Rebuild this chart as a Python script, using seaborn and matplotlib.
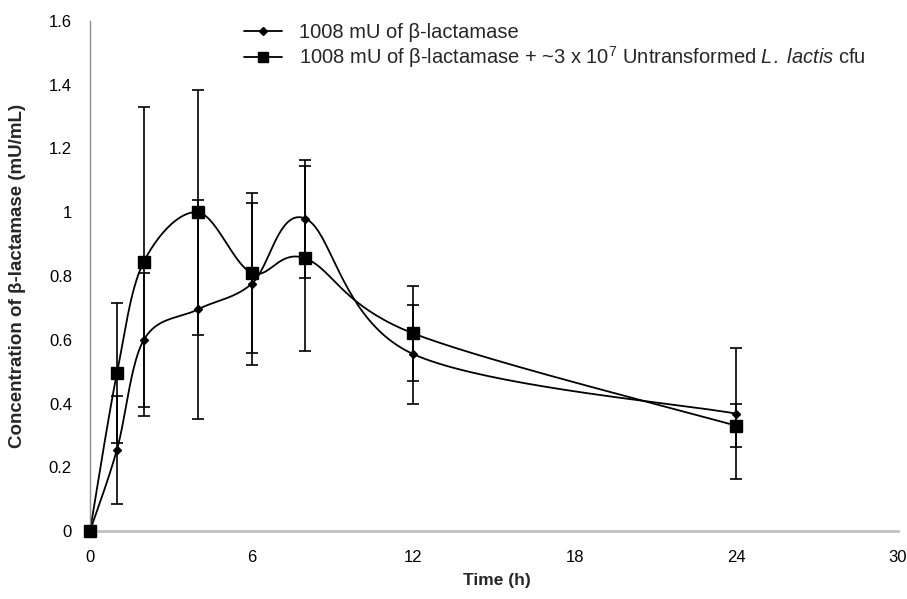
import numpy as np
import pandas as pd
import matplotlib
matplotlib.use("Agg")
import matplotlib.pyplot as plt
import seaborn as sns
from matplotlib.lines import Line2D

# ---- data ----
time_h = [0, 1, 2, 4, 6, 8, 12, 24]
enzyme_only = [0.0, 0.255, 0.60, 0.695, 0.775, 0.98, 0.555, 0.368]
enzyme_only_err = [0.0, 0.17, 0.21, 0.345, 0.255, 0.185, 0.155, 0.205]
enzyme_lactis = [0.0, 0.495, 0.845, 1.0, 0.81, 0.855, 0.62, 0.33]
enzyme_lactis_err = [0.0, 0.22, 0.485, 0.385, 0.25, 0.29, 0.15, 0.068]
label_1 = "1008 mU of β-lactamase"
label_2 = r"1008 mU of β-lactamase + ~3 x 10$^{7}$ Untransformed $\mathit{L.\ lactis}$ cfu"
x_ticks = [0, 6, 12, 18, 24, 30]
y_ticks = [0, 0.2, 0.4, 0.6, 0.8, 1, 1.2, 1.4, 1.6]
y_tick_labels = ["0", "0.2", "0.4", "0.6", "0.8", "1", "1.2", "1.4", "1.6"]

sns.set_theme(style="white")
plt.rcParams["font.family"] = ["Liberation Sans", "DejaVu Sans"]
plt.rcParams["mathtext.fontset"] = "custom"
plt.rcParams["mathtext.rm"] = "Liberation Sans"
plt.rcParams["mathtext.it"] = "Liberation Sans:italic"

W, H = 907, 599
L, R, B, T = 90, 898, 531, 21
fig = plt.figure(figsize=(W / 100, H / 100), dpi=100)
ax = fig.add_axes([L / W, 1 - B / H, (R - L) / W, (B - T) / H])
ax.set_xlim(0, 30)
ax.set_ylim(0, 1.6)

# smoothed curve (Excel-style Catmull-Rom Bezier in screen-scaled space)
sx, sy = (R - L) / 30, (B - T) / 1.6


def smooth(xs, ys, n=40):
    P = np.column_stack([np.asarray(xs) * sx, np.asarray(ys) * sy])
    out = []
    m = len(P)
    for i in range(m - 1):
        p0 = P[max(i - 1, 0)]
        p1 = P[i]
        p2 = P[i + 1]
        p3 = P[min(i + 2, m - 1)]
        c1 = p1 + (p2 - p0) / 6
        c2 = p2 - (p3 - p1) / 6
        t = np.linspace(0, 1, n)[:, None]
        seg = (1 - t) ** 3 * p1 + 3 * (1 - t) ** 2 * t * c1 + 3 * (1 - t) * t ** 2 * c2 + t ** 3 * p2
        out.append(seg if i == 0 else seg[1:])
    out = np.vstack(out)
    return out[:, 0] / sx, out[:, 1] / sy


frames = []
for name, vals in [("s1", enzyme_only), ("s2", enzyme_lactis)]:
    cx, cy = smooth(time_h, vals)
    frames.append(pd.DataFrame({"x": cx, "y": cy, "series": name}))
curves = pd.concat(frames, ignore_index=True)
sns.lineplot(data=curves, x="x", y="y", units="series", estimator=None, sort=False,
             color="black", lw=1.3, ax=ax, legend=False)

for vals, errs, mk, ms, z in [(enzyme_only, enzyme_only_err, "D", 4.5, 3),
                              (enzyme_lactis, enzyme_lactis_err, "s", 8, 4)]:
    cont = ax.errorbar(time_h, vals, yerr=errs, fmt=mk, ms=ms, color="black",
                       ecolor="black", elinewidth=1.2, capsize=4, capthick=1.2, zorder=z)
    for art in [cont.lines[0]] + list(cont.lines[1]) + list(cont.lines[2]):
        art.set_clip_on(False)

ax.set_xticks(x_ticks)
ax.set_yticks(y_ticks)
ax.set_yticklabels(y_tick_labels)
for s in ["top", "right"]:
    ax.spines[s].set_visible(False)
ax.spines["left"].set_color("#909090")
ax.spines["left"].set_linewidth(1.0)
ax.spines["bottom"].set_color("#c0c0c0")
ax.spines["bottom"].set_linewidth(2.0)
ax.tick_params(axis="both", direction="out", length=4, width=1, color="#909090",
               labelsize=12, labelcolor="black")
ax.tick_params(axis="y", pad=9)
ax.tick_params(axis="x", pad=10)
ax.set_xlabel("Time (h)", fontsize=12.5, fontweight="bold")
ax.set_ylabel("Concentration of β-lactamase (mU/mL)", fontsize=13.5, fontweight="bold")
ax.xaxis.set_label_coords((497 - L) / (R - L), (B - 580) / (B - T), transform=ax.transAxes)
ax.xaxis.label.set_va("center")
ax.yaxis.set_label_coords((18 - L) / (R - L), 0.5)
ax.yaxis.label.set_va("center")
ax.grid(False)

handles = [
    Line2D([], [], color="black", lw=1.3, marker="D", ms=4.5),
    Line2D([], [], color="black", lw=1.3, marker="s", ms=7),
]
fig.legend(handles, [label_1, label_2], loc="upper left", bbox_to_anchor=(234 / W, 1 - 13 / H),
           frameon=False, fontsize=14.5, handlelength=1.9, handletextpad=0.85, labelspacing=0.12,
           borderpad=0)

fig.savefig("out.png", dpi=100, facecolor="white")
